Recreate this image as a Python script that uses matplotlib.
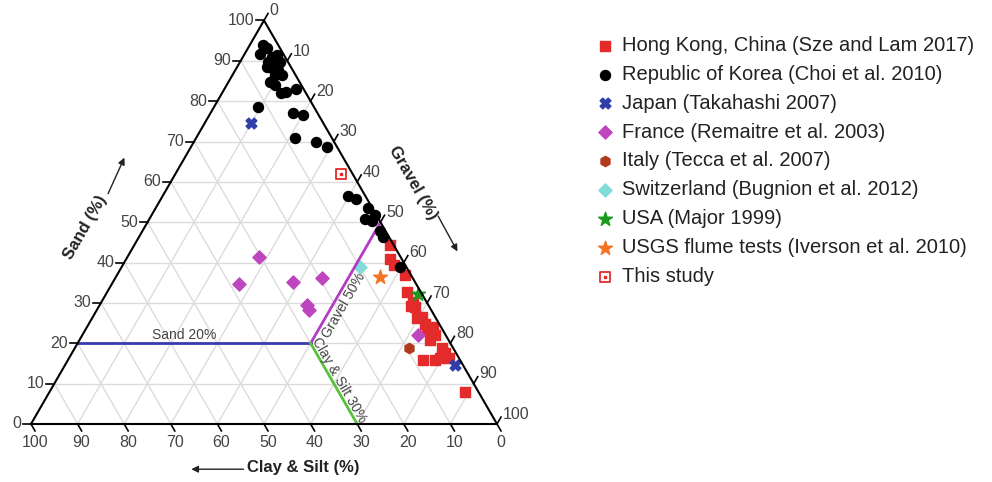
import numpy as np
import matplotlib
matplotlib.use('Agg')
import matplotlib.pyplot as plt

plt.rcParams['font.family'] = ['Liberation Sans', 'DejaVu Sans']

# --- data: sand (%) and gravel (%) of each sample; clay & silt is the rest ---
hk_sand = [44.4, 40.9, 39.4, 36.9, 32.8, 30.2, 29.2, 29.1, 26.6, 24.9, 23.3,
           24.1, 22.1, 18.8, 17.5, 15.9, 15.9, 16.4, 8.0, 26.3, 20.8, 16.4]
hk_gravel = [54.8, 56.5, 58.2, 61.8, 64.2, 66.9, 66.9, 67.9, 70.5, 72.1, 73.3,
             74.3, 75.6, 78.7, 80.1, 78.8, 76.2, 81.4, 89.1, 69.7, 75.2, 79.6]

korea_sand = [93.9, 93.1, 91.8, 91.4, 89.8, 90.2, 89.8, 88.5, 88.1, 87.7, 86.5,
              86.5, 84.8, 84.0, 81.9, 82.3, 82.9, 78.6, 77.1, 76.6, 70.8, 69.9,
              68.7, 56.6, 55.7, 53.4, 50.8, 50.3, 51.8, 47.8, 46.3, 39.0, 91.0]
korea_gravel = [2.9, 4.0, 3.2, 7.0, 6.0, 6.9, 8.5, 6.3, 7.6, 9.2, 10.6,
                9.1, 8.9, 10.4, 12.8, 13.6, 15.4, 9.5, 17.7, 20.1, 21.3, 26.3,
                29.1, 39.7, 41.9, 45.7, 46.3, 48.0, 47.9, 51.0, 52.4, 59.7, 6.2]

japan_sand = [74.5, 14.6]
japan_gravel = [9.9, 83.7]

france_sand = [41.5, 34.6, 35.3, 36.2, 29.5, 28.2, 22.1]
france_gravel = [28.2, 27.3, 38.5, 44.3, 44.4, 45.6, 72.0]

italy_sand = [18.8]
italy_gravel = [71.8]

swiss_sand = [39.0]
swiss_gravel = [51.1]

usa_sand = [32.2]
usa_gravel = [66.9]

usgs_sand = [36.5]
usgs_gravel = [56.6]

study_sand = [61.9]
study_gravel = [35.5]

labels = ['Hong Kong, China (Sze and Lam 2017)',
          'Republic of Korea (Choi et al. 2010)',
          'Japan (Takahashi 2007)',
          'France (Remaitre et al. 2003)',
          'Italy (Tecca et al. 2007)',
          'Switzerland (Bugnion et al. 2012)',
          'USA (Major 1999)',
          'USGS flume tests (Iverson et al. 2010)',
          'This study']

ticks = np.arange(0, 101, 10)

# threshold lines (sand, gravel) end points
sand20 = ([20, 20], [0, 50])
gravel50 = ([20, 50], [50, 50])
clay30 = ([20, 0], [50, 70])


def tern(sand, gravel):
    # sand at the top corner, gravel at bottom right, clay & silt at bottom left
    s = np.asarray(sand, float) / 100
    g = np.asarray(gravel, float) / 100
    return g + s / 2, s * np.sqrt(3) / 2


fig = plt.figure(figsize=(9.92, 4.82), dpi=100)
ax = fig.add_axes([0, 0, 560 / 992, 1])
ax.set_xlim(-31 / 466, 529 / 466)
ax.set_ylim(-58 / 466, 424 / 466)
ax.axis('off')

grid = '#dcdcdc'
for v in ticks[1:-1]:
    ax.plot(*tern([v, v], [0, 100 - v]), color=grid, lw=1, zorder=1)
    ax.plot(*tern([0, 100 - v], [v, v]), color=grid, lw=1, zorder=1)
    ax.plot(*tern([0, 100 - v], [100 - v, 0]), color=grid, lw=1, zorder=1)

# samples
h = []
h.append(ax.scatter(*tern(hk_sand, hk_gravel), marker='s', s=60, color='#e32b2b',
                    zorder=3))
h.append(ax.scatter(*tern(korea_sand, korea_gravel), marker='o', s=52,
                    color='black', zorder=4))
h.append(ax.scatter(*tern(japan_sand, japan_gravel), marker='X', s=60,
                    color='#2f3ea8', zorder=4))
h.append(ax.scatter(*tern(france_sand, france_gravel), marker='D', s=45,
                    color='#bf45bf', zorder=4))
h.append(ax.scatter(*tern(italy_sand, italy_gravel), marker='h', s=55,
                    color='#b23a1c', zorder=4))
h.append(ax.scatter(*tern(swiss_sand, swiss_gravel), marker='D', s=45,
                    color='#82dcd9', zorder=2))
h.append(ax.scatter(*tern(usa_sand, usa_gravel), marker='*', s=110,
                    color='#1c9a1c', zorder=4))
h.append(ax.scatter(*tern(usgs_sand, usgs_gravel), marker='*', s=110,
                    color='#f47422', zorder=4))
box = ax.scatter(*tern(study_sand, study_gravel), marker='s', s=55,
                 facecolor='white', edgecolor='#e32b2b', linewidth=1.3, zorder=4)
dot = ax.scatter(*tern(study_sand, study_gravel), marker='s', s=4,
                 color='#e32b2b', zorder=5)
h.append((box, dot))

# thresholds
ax.plot(*tern(*sand20), color='#3a3ab0', lw=2, zorder=2.5)
ax.plot(*tern(*gravel50), color='#b43cc4', lw=2, zorder=2.5)
ax.plot(*tern(*clay30), color='#55c33c', lw=2, zorder=2.5)
ax.text(0.328, 0.192, 'Sand 20%', fontsize=10, color='#444444',
        ha='center', va='center')
ax.text(0.672, 0.254, 'Gravel 50%', fontsize=10, color='#444444',
        ha='center', va='center', rotation=60)
ax.text(0.662, 0.094, 'Clay & Silt 30%', fontsize=10, color='#444444',
        ha='center', va='center', rotation=-60)

# triangle frame
ax.plot(*tern([0, 0, 100, 0], [0, 100, 0, 0]), color='black', lw=1.5, zorder=6)

# tick marks and labels
L = 8 / 466
up = np.array([0.5, np.sqrt(3) / 2])
down = np.array([0.5, -np.sqrt(3) / 2])
for v in ticks:
    x, y = tern(v, 0)
    ax.plot([x, x - L], [y, y], color='black', lw=1.2)
    ax.text(x - L - 0.004, y, str(v), ha='right', va='center',
            fontsize=11.5, color='#444444')
    x, y = tern(100 - v, v)
    ax.plot([x, x + L * up[0]], [y, y + L * up[1]], color='black', lw=1.2)
    ax.text(x + L * up[0] + 0.003, y + L * up[1] + 0.006, str(v), ha='left',
            va='center', fontsize=11.5, color='#444444')
    x, y = tern(0, 100 - v)
    ax.plot([x, x + L * down[0]], [y, y + L * down[1]], color='black', lw=1.2)
    ax.text(x + L * down[0], y + L * down[1] - 0.008, str(v), ha='center',
            va='top', fontsize=11.5, color='#444444')

# axis titles with direction arrows
ax.text(0.116, 0.421, 'Sand (%)', rotation=60, ha='center', va='center',
        fontsize=12, fontweight='bold', color='#222222')
ax.annotate('', xy=(0.203, 0.577), xytext=(0.163, 0.489),
            arrowprops=dict(arrowstyle='-|>', color='#222222', lw=1,
                            mutation_scale=10))
ax.text(0.820, 0.517, 'Gravel (%)', rotation=-60, ha='center', va='center',
        fontsize=12, fontweight='bold', color='#222222')
ax.annotate('', xy=(0.918, 0.365), xytext=(0.871, 0.451),
            arrowprops=dict(arrowstyle='-|>', color='#222222', lw=1,
                            mutation_scale=10))
ax.text(0.584, -0.094, 'Clay & Silt (%)', ha='center', va='center',
        fontsize=12, fontweight='bold', color='#222222')
ax.annotate('', xy=(0.338, -0.097), xytext=(0.462, -0.097),
            arrowprops=dict(arrowstyle='-|>', color='#222222', lw=1,
                            mutation_scale=10))

fig.legend(h, labels, loc='upper left', bbox_to_anchor=(595 / 992, 1 - 36 / 482),
           frameon=False, fontsize=14.5, handletextpad=0.35, labelspacing=0.49,
           handlelength=1.0, borderaxespad=0, borderpad=0, labelcolor='#222222')

plt.savefig('out.png', dpi=100)
